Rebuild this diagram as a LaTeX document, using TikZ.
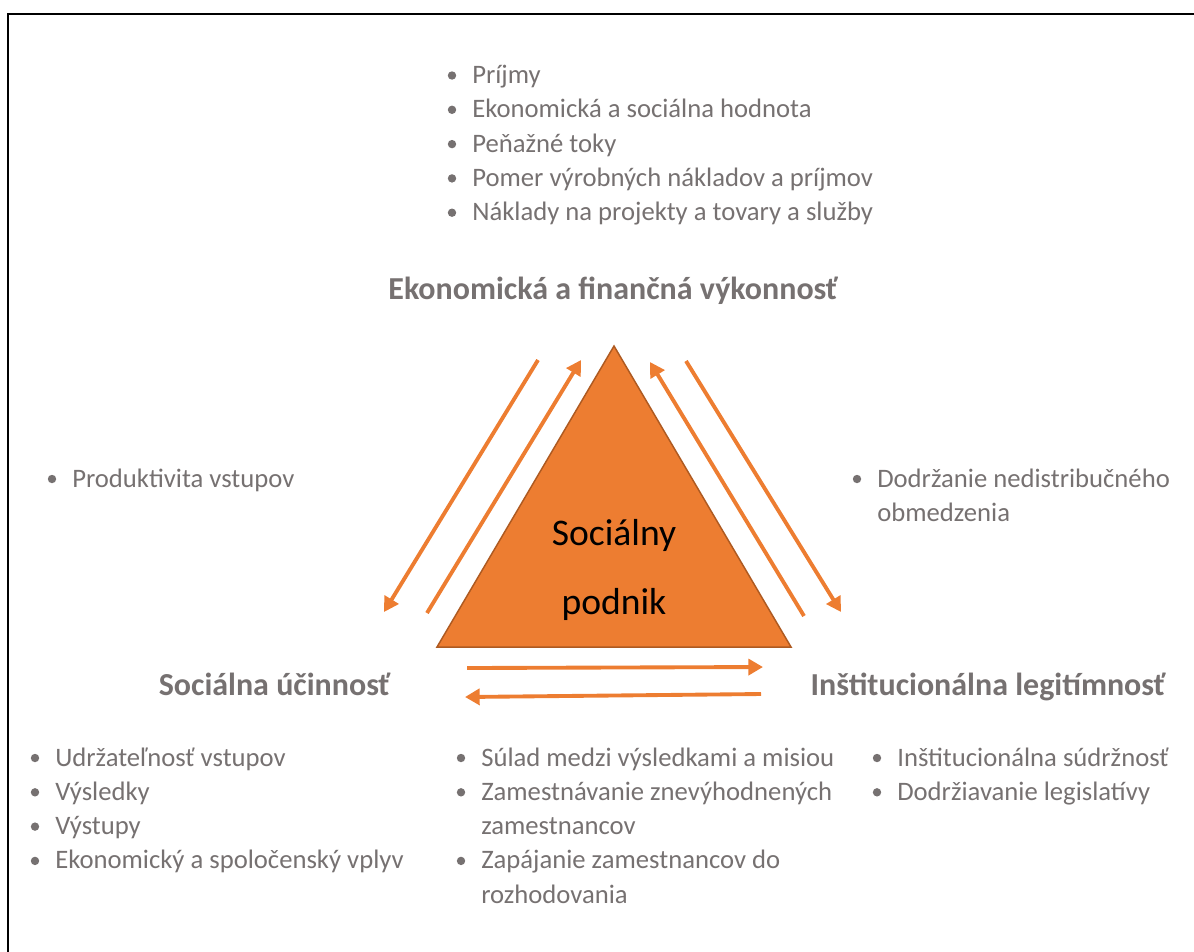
\documentclass[tikz,border=0pt]{standalone}
\usepackage{fontspec}
\setmainfont{Carlito}
\usetikzlibrary{arrows.meta}
\definecolor{accent}{HTML}{ED7D31}
\definecolor{accentdark}{HTML}{AE5A21}
\definecolor{txtgray}{HTML}{767171}
\newcommand{\listitem}[4]{%
  \node[itemtext] (#1) at (#2,#3) {#4};
  \node[bulletdot] (#1-dot) at ([xshift=-15pt,yshift=6pt]#1.base west) {};}
\begin{document}
\begin{tikzpicture}[x=0.75pt,y=-0.75pt,
  itemtext/.style={anchor=base west, inner sep=0pt, text=txtgray,
    font=\fontsize{20}{24}\selectfont},
  bulletdot/.style={circle, fill=txtgray, inner sep=0pt, minimum size=6.3pt},
  heading/.style={anchor=base, inner sep=0pt, text=txtgray,
    font=\fontsize{24}{29}\selectfont\bfseries},
  centre/.style={anchor=base, inner sep=0pt, text=black,
    font=\fontsize{28.2}{33}\selectfont},
  flow/.style={draw=accent, line width=2.9pt,
    -{Triangle[length=11pt,width=12pt]}}]
\useasboundingbox (0,0) rectangle (1194,951);

% page frame
\draw[line width=1.5pt] (8,965) -- (8,14) -- (1210,14);

% central triangle
\coordinate (apex) at (614,346);
\coordinate (bl) at (437,647);
\coordinate (br) at (791,647);
\filldraw[fill=accent, draw=accentdark, line width=1.1pt, line join=miter]
  (apex) -- (bl) -- (br) -- cycle;
\node[centre] (se1) at (614,545) {Sociálny};
\node[centre] (se2) at (614,614) {podnik};

% headings
\node[heading] (econ) at (613,299) {Ekonomická a finančná výkonnosť};
\node[heading] (soc) at (274.5,695) {Sociálna účinnosť};
\node[heading] (inst) at (988,695) {Inštitucionálna legitímnosť};

% top list
\listitem{t1}{472}{83.5}{Príjmy}
\listitem{t2}{472}{117.8}{Ekonomická a sociálna hodnota}
\listitem{t3}{472}{152.1}{Peňažné toky}
\listitem{t4}{472}{186.4}{Pomer výrobných nákladov a príjmov}
\listitem{t5}{472}{220.7}{Náklady na projekty a tovary a služby}

% side lists
\listitem{l1}{72}{487}{Produktivita vstupov}
\listitem{r1}{877}{487}{Dodržanie nedistribučného}
\node[itemtext] (r1b) at (877,521.3) {obmedzenia};

% bottom lists
\listitem{b1}{55}{766}{Udržateľnosť vstupov}
\listitem{b2}{55}{800.3}{Výsledky}
\listitem{b3}{55}{834.6}{Výstupy}
\listitem{b4}{55}{868.9}{Ekonomický a spoločenský vplyv}

\listitem{m1}{481}{766}{Súlad medzi výsledkami a misiou}
\listitem{m2}{481}{800.3}{Zamestnávanie znevýhodnených}
\node[itemtext] (m2b) at (481,834.6) {zamestnancov};
\listitem{m3}{481}{868.9}{Zapájanie zamestnancov do}
\node[itemtext] (m3b) at (481,903.2) {rozhodovania};

\listitem{n1}{897}{766}{Inštitucionálna súdržnosť}
\listitem{n2}{897}{800.3}{Dodržiavanie legislatívy}

% arrow end points
\coordinate (la1) at (538,360);
\coordinate (la2) at (384,612);
\coordinate (lb1) at (427,613);
\coordinate (lb2) at (581,360);
\coordinate (ra1) at (804,616);
\coordinate (ra2) at (650,362);
\coordinate (rb1) at (686,361);
\coordinate (rb2) at (841,612);
\coordinate (ba1) at (467,668);
\coordinate (ba2) at (763,667);
\coordinate (bb1) at (761,694);
\coordinate (bb2) at (465,697);

% flows between the three dimensions
\draw[flow] (la1) -- (la2);
\draw[flow] (lb1) -- (lb2);
\draw[flow] (ra1) -- (ra2);
\draw[flow] (rb1) -- (rb2);
\draw[flow] (ba1) -- (ba2);
\draw[flow] (bb1) -- (bb2);
\end{tikzpicture}
\end{document}
